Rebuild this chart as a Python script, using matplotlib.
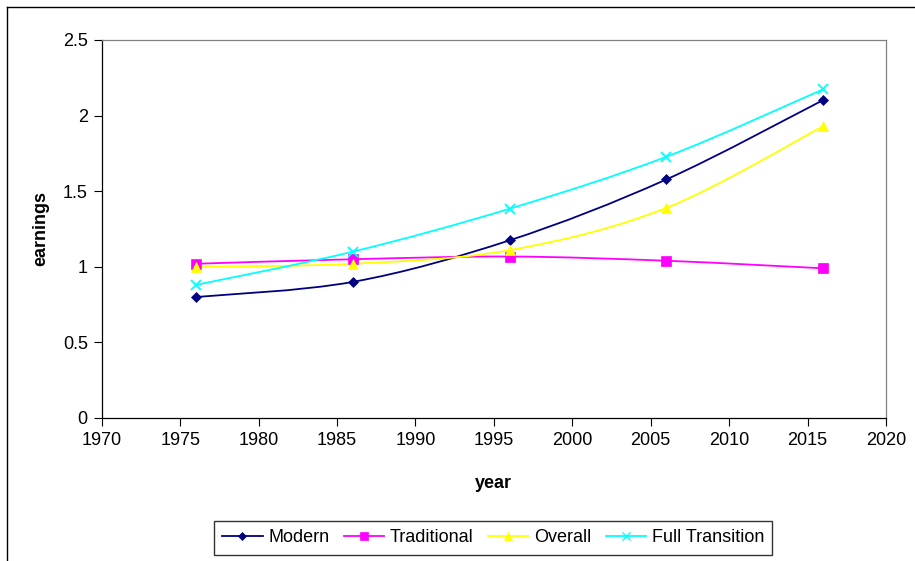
import matplotlib
matplotlib.use("Agg")
import matplotlib.pyplot as plt
from matplotlib.path import Path
from matplotlib.patches import PathPatch
from matplotlib.lines import Line2D
import numpy as np

plt.rcParams["font.family"] = ["Liberation Sans", "DejaVu Sans"]

# values
years = [1976, 1986, 1996, 2006, 2016]
modern = [0.80, 0.90, 1.175, 1.578, 2.103]
traditional = [1.02, 1.05, 1.068, 1.04, 0.99]
overall = [1.00, 1.02, 1.11, 1.39, 1.93]
full_transition = [0.88, 1.10, 1.384, 1.728, 2.174]

series = [
    ("Modern", modern, "#000080", "D", 5.5),
    ("Traditional", traditional, "#FF00FF", "s", 6.5),
    ("Overall", overall, "#FFFF00", "^", 7),
    ("Full Transition", full_transition, "#00FFFF", "x", 7),
]


def smooth_path(xs, ys):
    # Excel-like smoothed line: cubic bezier through the points
    pts = np.column_stack([xs, ys]).astype(float)
    n = len(pts)
    verts = [pts[0]]
    codes = [Path.MOVETO]
    for i in range(n - 1):
        p0 = pts[i - 1] if i > 0 else pts[i]
        p1, p2 = pts[i], pts[i + 1]
        p3 = pts[i + 2] if i + 2 < n else pts[i + 1]
        verts += [p1 + (p2 - p0) / 6, p2 - (p3 - p1) / 6, p2]
        codes += [Path.CURVE4] * 3
    return Path(verts, codes)


W, H = 915, 561
fig = plt.figure(figsize=(W / 100, H / 100), dpi=100)
ax = fig.add_axes([101.7 / W, 1 - 418 / H, 784.3 / W, 378 / H])

for name, vals, col, mk, ms in series:
    ax.add_patch(PathPatch(smooth_path(years, vals), fill=False, edgecolor=col, lw=1.3, zorder=2))
    ax.plot(years, vals, ls="none", marker=mk, color=col, ms=ms, mew=1.3 if mk == "x" else 0.5, zorder=3)
    ax.plot([], [], marker=mk, color=col, ms=ms * 0.8, lw=1.3, mew=1.0 if mk == "x" else 0.5, label=name)

ax.set_xlim(1970, 2020)
ax.set_ylim(0, 2.5)
ax.set_xticks(range(1970, 2021, 5))
ax.set_yticks([0, 0.5, 1, 1.5, 2, 2.5])
ax.set_yticklabels(["0", "0.5", "1", "1.5", "2", "2.5"])
ax.tick_params(direction="out", length=6, labelsize=13, color="black", width=0.8, pad=4)
for side in ("left", "bottom"):
    ax.spines[side].set_color("black")
    ax.spines[side].set_linewidth(0.9)
for side in ("top", "right"):
    ax.spines[side].set_color("#808080")
    ax.spines[side].set_linewidth(0.9)

ax.set_xlabel("year", fontsize=13, fontweight="bold")
ax.set_ylabel("earnings", fontsize=13, fontweight="bold")
ax.xaxis.set_label_coords(0.5, (418 - 475) / 378)
ax.yaxis.set_label_coords((49 - 101.7) / 784.3, 0.5)

leg = fig.legend(loc="center", bbox_to_anchor=(493 / W, 1 - 538 / H), ncol=4,
                 fontsize=13, frameon=True, fancybox=False, edgecolor="black",
                 handlelength=2.25, handletextpad=0.3, columnspacing=0.8,
                 borderpad=0.45, borderaxespad=0)
leg.get_frame().set_linewidth(1.0)

# chart-area border (only left and top edges fall inside the image)
fig.add_artist(Line2D([7 / W, 7 / W], [0, 1 - 7 / H], transform=fig.transFigure, color="black", lw=1.0))
fig.add_artist(Line2D([7 / W, 1], [1 - 7 / H, 1 - 7 / H], transform=fig.transFigure, color="black", lw=1.0))

fig.savefig("out.png", dpi=100)
